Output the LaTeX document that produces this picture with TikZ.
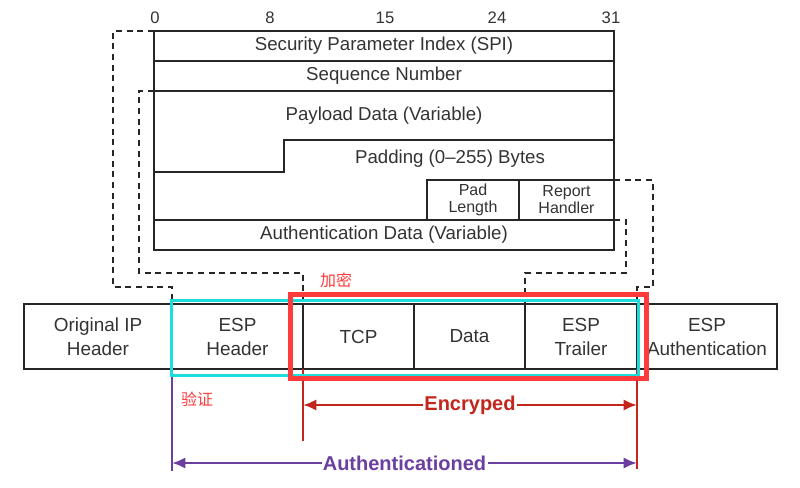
\documentclass[tikz,border=0pt]{standalone}
\usepackage{fontspec}
\setmainfont{Liberation Sans}
\newfontfamily\cjk{Noto Sans CJK SC}
\usetikzlibrary{positioning,arrows.meta}
\definecolor{ink}{HTML}{333333}
\definecolor{encred}{HTML}{C3261C}
\definecolor{authpurple}{HTML}{6A3FA0}
\definecolor{markred}{HTML}{FF3B3B}
\definecolor{markcyan}{HTML}{1CDCDC}
\tikzset{>={Latex[length=10pt,width=8.5pt]}}
\tikzset{
  field/.style = {draw=black!85,line width=1.6pt,outer sep=0pt,inner sep=0pt,
    text=ink,minimum width=345pt,minimum height=22.5pt,font=\fontsize{14}{15}\selectfont},
  smallfield/.style = {field,minimum height=30pt,align=center,font=\fontsize{12}{12.75}\selectfont},
  frame/.style = {draw=black!85,line width=1.6pt},
  pkt/.style = {draw=black!85,line width=1.8pt,outer sep=0pt,inner sep=0pt,text=ink,
    minimum height=48.75pt,align=center,font=\fontsize{14.2}{18}\selectfont},
  bitno/.style = {text=ink,font=\fontsize{12.5}{14}\selectfont},
  dashline/.style = {draw=black!85,line width=1.5pt,dash pattern=on 4.5pt off 3.5pt},
  encline/.style = {draw=encred,line width=2.2pt},
  authline/.style = {draw=authpurple,line width=2.2pt},
  armlabel/.style = {fill=white,inner sep=1pt,font=\fontsize{15}{16}\selectfont\bfseries},
  cjklabel/.style = {text=markred,font=\fontsize{12}{14}\selectfont\cjk}
}

\begin{document}
\begin{tikzpicture}[x=0.75pt,y=-0.75pt]
  \useasboundingbox (0,0) rectangle (800,487);
  \node[bitno] (b0) at (155,18) {0};
  \node[bitno] (b8) at (270,18) {8};
  \node[bitno] (b15) at (385,18) {15};
  \node[bitno] (b24) at (497,18) {24};
  \node[bitno] (b31) at (611,18) {31};
  \node[field] (spi) at (384,46) {Security Parameter Index (SPI)};
  \node[field] (seq) at (384,76) {Sequence Number};
  \node[field] (auth) at (384,235) {Authentication Data (Variable)};
  \node[smallfield,minimum width=69pt] (padlen) at (473,200) {Pad\\Length};
  \node[smallfield,minimum width=71.25pt] (rph) at (566.5,200) {Report\\Handler};
  \node[text=ink,font=\fontsize{14}{15}\selectfont] (payload) at (384,116) {Payload Data (Variable)};
  \node[text=ink,font=\fontsize{14}{15}\selectfont] (padding) at (450,159) {Padding (0–255) Bytes};
  \draw[frame] (seq.south west) -- (auth.north west);
  \draw[frame] (seq.south east) -- (rph.north east);
  \draw[frame] (154,172) -- ++(130,0) -- ++(0,-32) -- ++(330,0);

  \node[pkt,minimum width=111pt,anchor=north west] (oiph) at (24,304) {Original IP\\Header};
  \node[pkt,minimum width=98.25pt,right=0pt of oiph] (esph) {ESP\\Header};
  \node[pkt,minimum width=83.25pt,right=0pt of esph] (tcp) {TCP};
  \node[pkt,minimum width=83.25pt,right=0pt of tcp] (data) {Data};
  \node[pkt,minimum width=84pt,right=0pt of data] (espt) {ESP\\Trailer};
  \node[pkt,minimum width=105pt,right=0pt of espt] (espa) {ESP\\Authentication};

  \draw[dashline] (spi.north west) -- ++(-41,0) |- ++(59,256) -- (esph.north west);
  \draw[dashline] (seq.south west) -- ++(-15,0) |- ++(164,182) -- (tcp.north west);
  \draw[dashline] (rph.north east) -- ++(39,0) |- ++(-16,107) -- (espa.north west);
  \draw[dashline] (auth.north east) -- ++(12,0) |- ++(-101,53) -- (espt.north west);

  \draw[encline] (tcp.south west) -- ++(0,72);
  \draw[encline] (espt.south east) -- ++(0,100);
  \draw[encline,<->] ([yshift=-27pt]tcp.south west) -- ([yshift=-27pt]espt.south east)
    node[midway,armlabel,text=encred] (enc) {Encryped};
  \draw[authline] (esph.south west) -- ++(0,102);
  \draw[authline,<->] ([yshift=-70.5pt]esph.south west) -- ([yshift=-70.5pt]espt.south east)
    node[midway,armlabel,text=authpurple] (authd) {Authenticationed};

  \draw[markcyan,line width=2.25pt] (171,300) rectangle (638,375);
  \draw[markred,line width=4pt] (290.5,294.5) rectangle (646.5,378.5);
  \node[cjklabel] (jiami) at (336,280) {加密};
  \node[cjklabel] (yanzheng) at (197,399) {验证};
\end{tikzpicture}
\end{document}
